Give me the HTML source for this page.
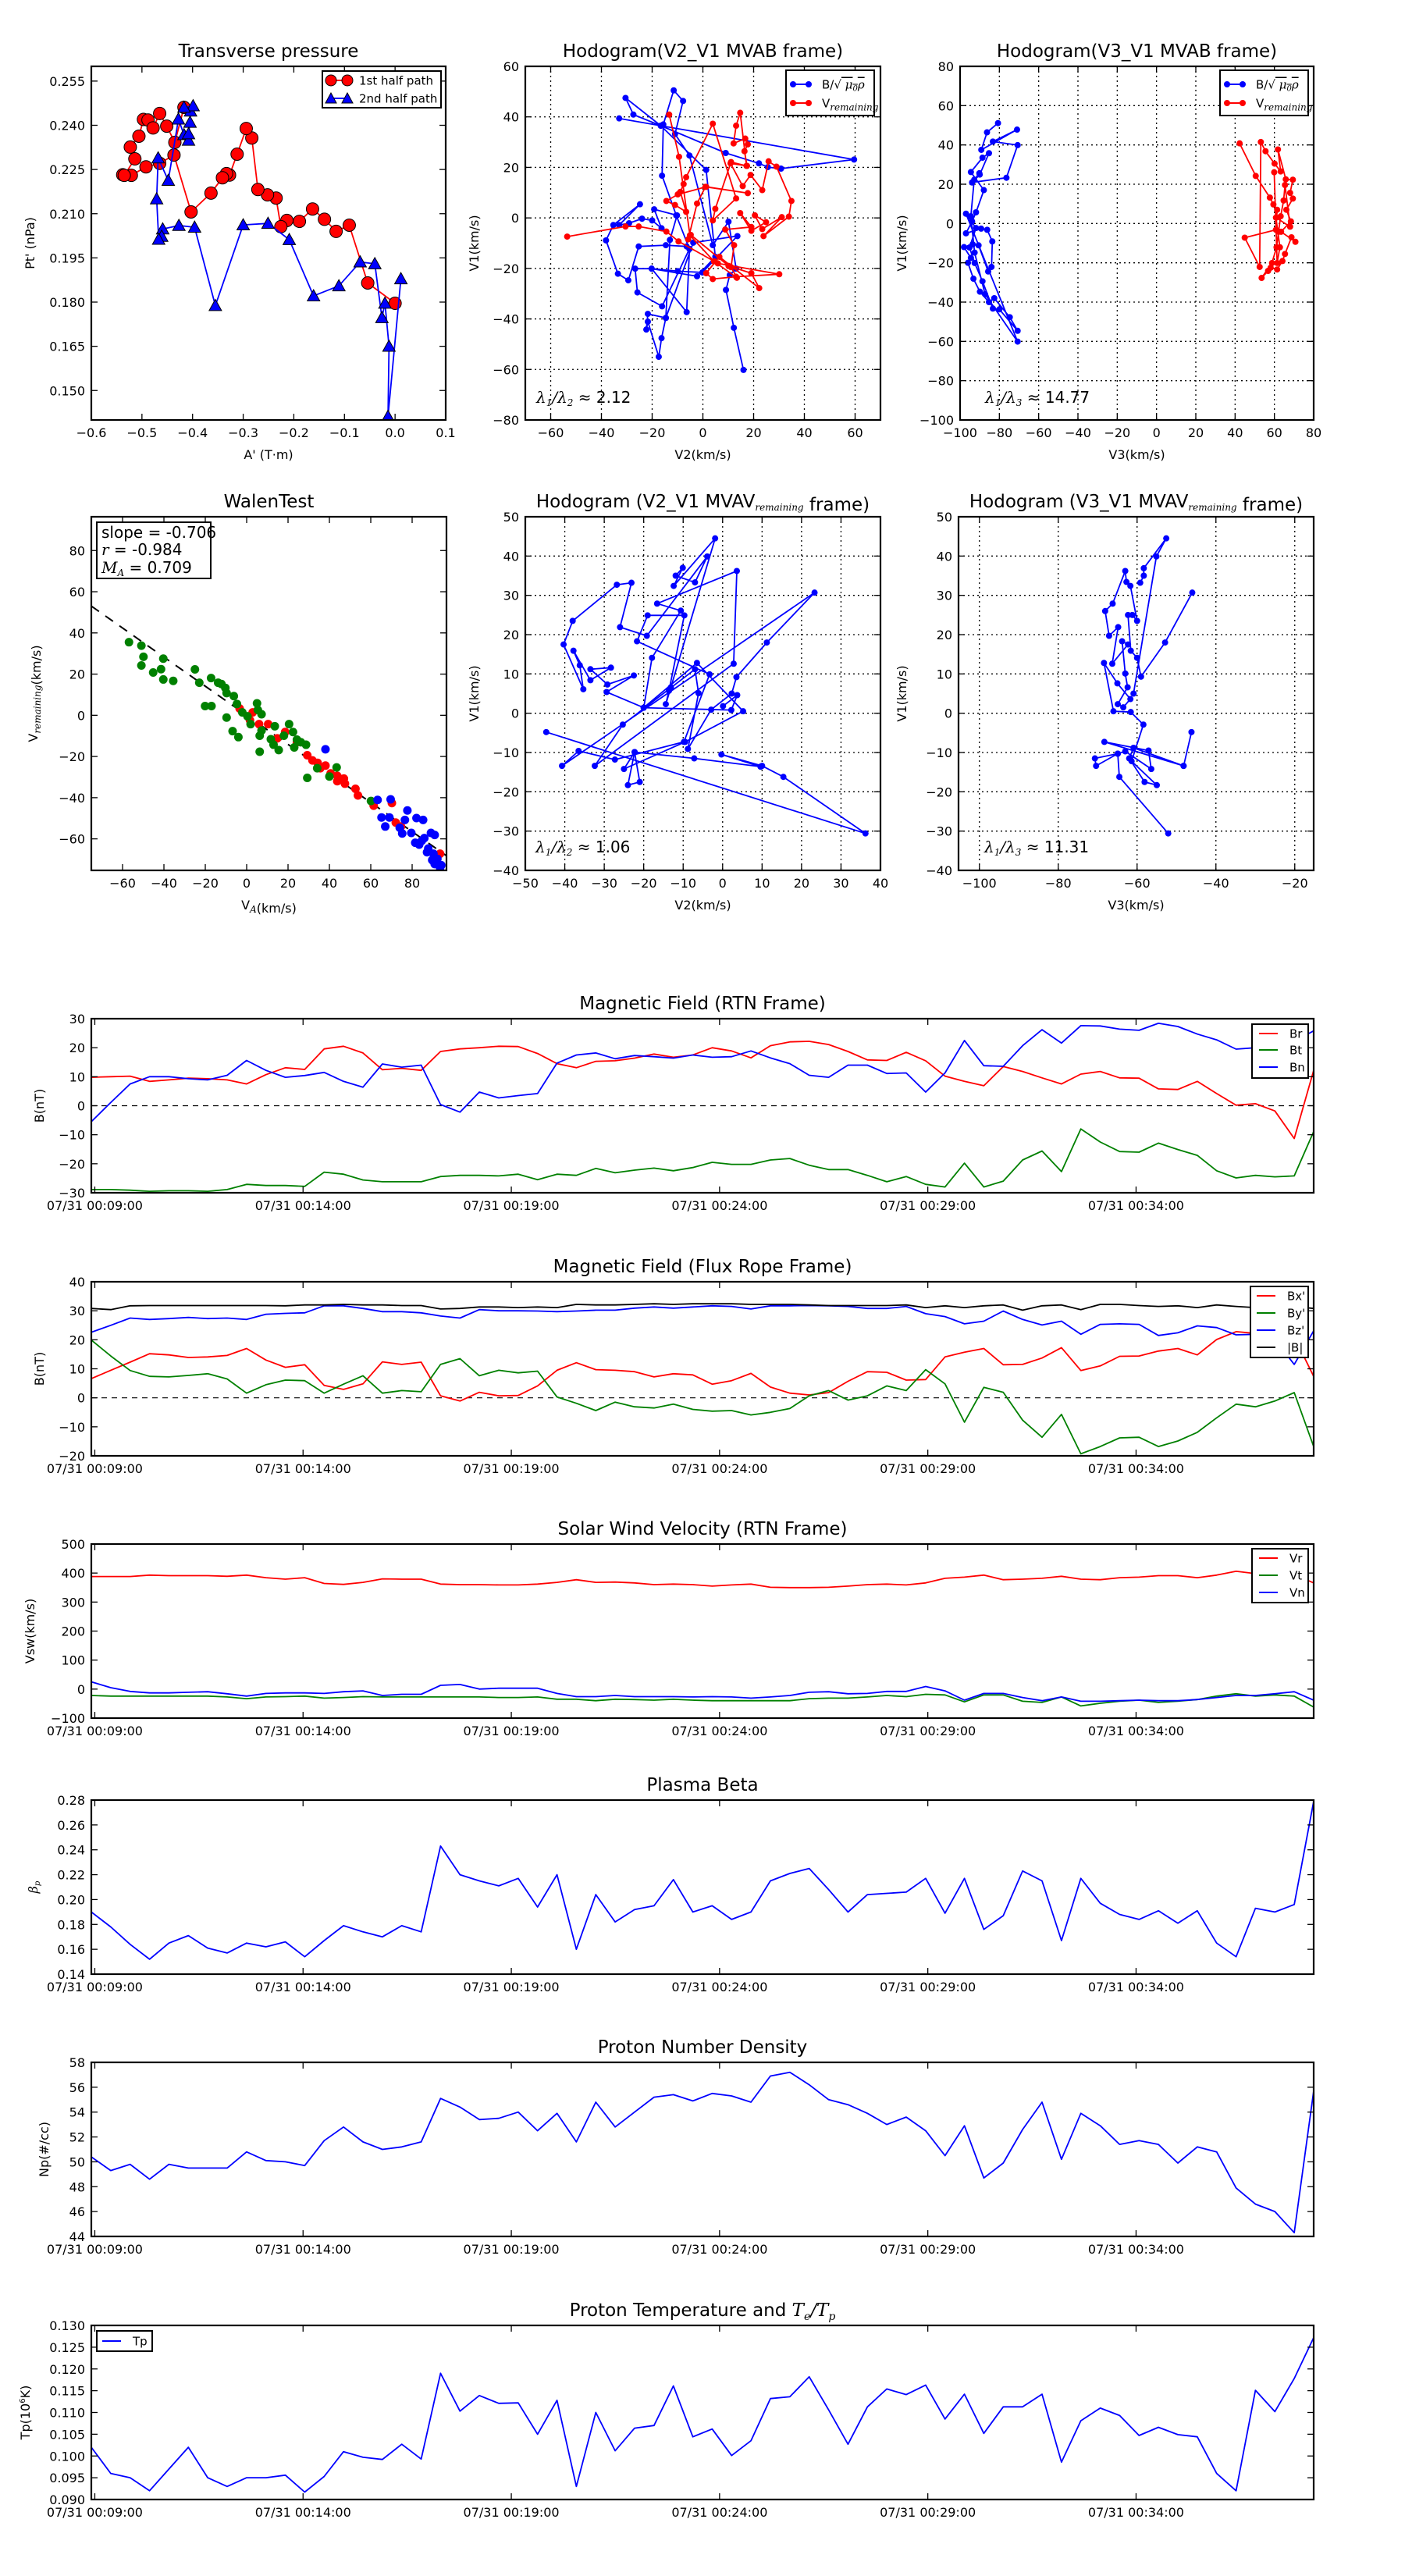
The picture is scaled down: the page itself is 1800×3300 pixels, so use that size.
<!DOCTYPE html>
<html><head><meta charset="utf-8"><title>Flux rope analysis</title>
<style>
html,body{margin:0;padding:0;background:#fff;}
svg{display:block;font-family:"DejaVu Sans","Liberation Sans",sans-serif;}
</style></head>
<body>
<svg id="fig" xmlns="http://www.w3.org/2000/svg" width="1800" height="3300" viewBox="0 0 1800 3300">
<rect width="1800" height="3300" fill="#fff"/>
<defs id="defs"></defs>
</svg>
<script>
// ---------- DATA ----------
const tp1A=[0.000,-0.054,-0.0905,-0.1165,-0.1395,-0.163,-0.189,-0.2137,-0.2256,-0.235,-0.252,-0.271,-0.283,-0.294,-0.312,-0.327,-0.333,-0.341,-0.3636,-0.403,-0.4367,-0.465,-0.492,-0.521,-0.538,-0.535,-0.514,-0.523,-0.506,-0.497,-0.488,-0.478,-0.465,-0.451,-0.435,-0.417];
const tp1P=[0.1796,0.1865,0.2061,0.2040,0.2081,0.2116,0.2074,0.2077,0.2056,0.2153,0.2164,0.2182,0.2357,0.2389,0.2302,0.2231,0.2236,0.2222,0.2170,0.2106,0.2299,0.2271,0.2259,0.2230,0.2232,0.2230,0.2286,0.2326,0.2363,0.2420,0.2418,0.2391,0.2440,0.2397,0.2342,0.2461];
const tp2A=[0.0115,-0.014,-0.012,-0.020,-0.026,-0.040,-0.069,-0.111,-0.161,-0.209,-0.251,-0.300,-0.355,-0.396,-0.427,-0.459,-0.461,-0.467,-0.471,-0.468,-0.448,-0.428,-0.417,-0.408,-0.408,-0.405,-0.404,-0.399,-0.417];
const tp2P=[0.1879,0.1412,0.1650,0.1796,0.1747,0.1930,0.1936,0.1855,0.1821,0.2012,0.2067,0.2062,0.1788,0.2054,0.2060,0.2048,0.2023,0.2013,0.2150,0.2289,0.2213,0.2421,0.2368,0.2349,0.2371,0.2410,0.2448,0.2466,0.2461];
const h1bV2=[16.0,12.2,9.1,10.6,13.1,10.1,3.9,-5.3,-11.0,-7.8,-11.5,-15.6,-16.1,-10.5,-5.3,-6.4,-14.6,-25.3,-29.4,-33.5,-38.2,-35.3,-24.8,-33.0,-29.1,-24.0,-20.0,-16.3,-19.2,-10.2,-13.0,-14.6,-16.3,-17.4,-21.7,-22.3,-21.7,-14.6,-3.8,13.6,-0.2,-9.9,-20.2,-26.7,-25.8,-16.1,-5.3,-6.4,-20.2,-2.3,4.9,1.3,-16.6,-30.5,-27.4,-16.6,9.0,22.1,25.6,30.8,59.6,-33.0];
const h1bV1=[-60.2,-43.5,-28.5,-22.6,-20.1,-1.5,-10.8,24.7,33.2,46.3,50.5,37.0,16.7,1.0,-12.3,-11.3,-10.8,-11.3,-24.7,-22.1,-8.9,-2.8,5.4,-2.8,-2.1,-0.3,-1.0,-4.1,3.4,1.0,-8.7,-39.6,-47.6,-55.0,-41.1,-44.2,-38.0,-39.6,-9.8,-7.2,-21.6,-21.1,-20.1,-20.1,-29.5,-35.0,-12.3,-37.3,-20.1,-23.1,-15.4,19.0,36.5,47.5,40.9,36.5,25.7,21.6,20.1,19.5,23.1,39.4];
const h1rV2=[-53.5,-30.5,-25.3,-14.4,-9.6,5.9,30.1,13.1,3.9,1.3,6.5,22.2,19.1,10.1,-4.8,-5.8,-2.3,1.0,17.7,1.3,-9.9,-14.4,-11.0,-6.6,-8.9,-7.6,-6.6,3.9,13.1,3.9,4.9,11.1,17.2,14.7,13.1,12.1,16.7,17.7,16.4,17.4,10.9,15.7,18.8,23.4,25.9,29.0,34.9,33.9,23.9,31.1,23.4,20.5,24.9,19.1,14.7,19.1,8.8,12.3,11.1,13.4,4.4,-5.1,-9.4,-13.3];
const h1rV1=[-7.4,-3.4,-3.4,-5.4,-9.3,-18.0,-22.3,-23.3,-24.2,-21.9,-15.4,-27.8,-21.9,-19.0,-6.7,-8.5,5.7,12.3,9.8,12.3,9.3,6.7,5.1,2.4,10.3,13.4,16.1,37.3,7.7,-1.0,3.6,22.1,20.6,41.6,36.5,29.5,31.4,29.1,26.4,20.6,21.6,12.6,17.0,11.0,22.4,20.3,6.7,0.5,-7.2,0.3,-4.4,1.0,-1.7,-5.1,1.9,-3.6,-4.6,-10.8,-19.5,-23.7,-17.2,-6.9,24.2,40.9];
const h2bV3=[-80.7,-86.3,-89.2,-71.0,-83.3,-70.7,-76.4,-93.9,-90.0,-85.3,-88.6,-94.5,-87.9,-91.9,-93.9,-97.0,-89.3,-86.2,-83.6,-84.0,-85.7,-90.6,-93.6,-98.0,-94.5,-96.0,-93.2,-89.9,-85.3,-82.6,-74.7,-70.7,-80.0,-83.3,-88.6,-92.6,-95.2,-91.9,-97.0,-70.7,-87.3,-92.6,-94.5,-92.8,-90.2];
const h2bV1=[51.1,46.4,37.5,47.8,41.7,39.9,23.3,20.9,24.9,35.8,33.5,26.2,17.0,5.7,1.1,-5.0,-2.6,-3.2,-9.1,-22.1,-24.4,-11.1,-10.6,-12.0,-17.5,-20.0,-28.1,-34.7,-40.0,-38.0,-47.7,-54.6,-43.7,-43.3,-29.4,-20.1,-12.2,-2.3,5.0,-60.1,-36.0,-14.8,3.7,22.3,25.6];
const h2rV3=[42.3,50.5,57.7,59.5,61.4,60.8,44.9,52.5,53.1,55.5,60.1,63.2,61.8,65.8,69.4,68.0,69.4,66.1,68.4,63.4,70.7,68.7,65.4,64.1,61.4,58.1,56.8,53.5,58.8,61.1,62.1,63.2,64.7,65.4,68.0,60.8,62.8,61.4,59.9];
const h2rV1=[40.8,24.2,13.2,9.7,7.0,-3.2,-7.2,-22.1,41.5,36.8,30.5,26.5,37.7,22.5,22.3,15.6,12.7,7.0,1.1,-4.2,-9.3,-7.0,-15.5,-19.1,-23.4,-22.5,-24.1,-27.7,-20.1,-12.1,-4.2,3.7,11.7,19.6,-1.6,3.0,-12.1,-20.1,26.1];
const wGx=[-56.9,-50.9,-49.9,-50.9,-45.2,-41.4,-40.3,-40.3,-35.5,-25.0,-22.9,-17.2,-13.8,-12.2,-10.3,-9.7,-6.2,-20.1,-17.0,-4.7,-2.1,-9.7,0.4,5.0,5.4,7.2,1.9,7.2,6.3,-6.8,-4.0,6.3,11.7,13.0,13.6,15.5,18.0,20.5,22.4,24.3,26.2,28.7,23.0,34.1,29.3,40.0,43.5,60.1];
const wGy=[35.5,33.8,28.4,24.2,20.8,22.4,27.5,17.4,16.7,22.3,15.8,18.1,15.8,15.2,13.3,10.8,9.3,4.5,4.5,5.5,1.4,-1.1,-0.5,5.8,2.6,0.5,-4.3,-7.4,-9.9,-7.7,-10.6,-17.7,-11.6,-14.3,-5.3,-16.9,-9.9,-4.3,-8.1,-11.8,-13.1,-14.3,-15.6,-25.7,-30.4,-29.7,-25.3,-41.6];
const wRx=[-3.4,2.9,1.6,6.0,10.4,14.8,18.6,24.3,29.3,31.8,34.3,35.6,38.1,40.6,43.8,47.0,43.8,47.5,52.6,53.8,61.4,70.2,72.1,74.6,93.5];
const wRy=[3.3,1.4,-2.4,-4.3,-4.3,-11.2,-8.1,-13.1,-19.4,-21.9,-23.1,-25.7,-24.4,-28.2,-29.4,-30.7,-32.0,-33.2,-35.7,-38.9,-43.9,-42.6,-52.1,-54.0,-67.2];
const wBx=[38.1,63.3,69.6,77.7,65.2,69.0,67.0,76.5,74.0,82.1,85.3,75.2,81.5,83.4,85.9,89.1,90.9,87.8,90.3,92.2,90.9,94.1,89.7,87.2,93.5,84.7,79.6];
const wBy=[-16.5,-41.1,-40.8,-46.2,-49.6,-49.6,-54.0,-50.8,-54.6,-49.9,-50.8,-57.4,-61.9,-62.8,-59.6,-57.1,-58.1,-64.7,-67.2,-69.7,-72.2,-72.8,-70.3,-66.5,-74.1,-60.9,-57.1];
const walenSlope=-0.706;
const h3V2=[-44.7,36.2,15.4,10.0,-0.3,9.6,-7.2,-22.3,-24.0,-21.0,-22.3,-25.0,-9.5,5.2,-6.5,-20.0,-17.9,-10.6,-16.6,3.6,2.8,-32.4,-25.3,-7.0,-6.1,-8.8,-2.9,2.3,3.5,11.2,23.3,-40.7,-36.5,-27.3,-9.8,-3.3,-21.7,-19.0,-9.7,-13.6,-14.4,-13.1,-1.9,-12.4,-10.1,-11.9,-7.0,-3.9,-19.2,-26.0,-23.1,-26.8,-38.0,-40.3,-35.3,-36.2,-37.8,-33.5,-28.3,-33.5,-29.2,-22.5,-29.4,-20.0,2.2,3.7,0.1];
const h3V1=[-4.8,-30.6,-16.2,-13.4,-10.5,-13.6,-11.5,-9.9,-18.3,-17.5,-9.9,-14.2,-7.3,0.5,12.8,1.4,14.1,26.1,27.9,36.2,12.6,-13.4,-2.9,11.2,5.1,-9.1,0.9,5.0,9.2,18.0,30.7,-13.4,-9.6,-11.8,-7.3,9.9,18.3,24.9,24.9,5.7,2.3,6.6,44.5,32.4,37.0,35.0,33.3,39.9,19.7,21.9,33.2,32.7,23.5,17.5,6.1,12.2,15.9,8.4,11.6,11.2,7.3,9.6,5.4,1.4,0.8,4.6,1.8];
const h4V3=[-52.1,-64.5,-64.9,-70.7,-70.4,-64.9,-63.0,-56.4,-57.1,-68.3,-48.2,-46.2,-48.2,-60.9,-62.0,-58.1,-55.0,-61.4,-58.4,-61.6,-66.0,-68.4,-65.0,-61.7,-63.5,-64.9,-62.4,-63.0,-63.8,-62.3,-66.3,-64.8,-67.1,-68.1,-66.2,-63.0,-62.7,-61.7,-60.0,-61.2,-62.3,-61.6,-60.0,-59.0,-52.9,-46.0];
const h4V1=[-30.6,-16.2,-10.3,-11.5,-13.4,-10.3,-9.7,-14.2,-9.5,-7.3,-13.4,-4.8,-13.4,-8.8,-11.5,-17.5,-18.3,-12.2,-2.9,0.3,0.5,12.8,7.6,3.6,1.5,2.3,6.6,10.1,18.3,17.5,12.6,21.9,19.7,26.0,27.9,36.2,33.4,32.4,23.5,25.0,25.0,15.9,14.1,9.3,18.0,30.7];
const h4bV3=[-59.2,-58.3,-58.3,-52.6,-55.1,-60.9];
const h4bV1=[33.2,35.0,36.9,44.5,39.9,5.0];
const tStart=535, tStep=27.95;
const timeTicks=[540,840,1140,1440,1740,2040];
const timeTickLabels=["07/31 00:09:00","07/31 00:14:00","07/31 00:19:00","07/31 00:24:00","07/31 00:29:00","07/31 00:34:00"];
const Br=[9.8,10.0,10.2,8.4,8.9,9.5,9.3,8.9,7.5,10.7,13.1,12.5,19.6,20.5,18.2,12.4,12.9,12.2,18.7,19.6,20.0,20.5,20.4,18.0,14.5,13.1,15.3,15.5,16.4,17.8,16.7,17.5,20.0,18.9,16.5,20.7,22.0,22.2,21.1,18.7,15.8,15.6,18.4,15.5,10.2,8.4,6.9,13.5,11.8,9.6,7.5,10.9,11.8,9.6,9.5,5.8,5.6,8.4,4.2,0.2,0.7,-1.8,-11.3,12.2];
const Bt=[-28.9,-28.9,-29.1,-29.5,-29.3,-29.3,-29.5,-28.9,-27.1,-27.5,-27.5,-27.8,-22.9,-23.6,-25.6,-26.2,-26.2,-26.2,-24.4,-24.0,-24.0,-24.2,-23.6,-25.5,-23.6,-24.0,-21.6,-23.1,-22.2,-21.5,-22.4,-21.3,-19.5,-20.2,-20.2,-18.7,-18.2,-20.5,-22.0,-22.0,-24.0,-26.2,-24.4,-27.1,-28.0,-19.8,-28.0,-26.0,-18.7,-15.6,-22.7,-8.0,-12.5,-15.8,-16.0,-12.9,-15.1,-17.1,-22.4,-24.9,-24.0,-24.5,-24.2,-8.9];
const Bn=[-5.5,1.1,7.5,10.0,10.0,9.3,8.9,10.5,15.6,12.2,9.8,10.4,11.5,8.4,6.4,14.4,13.3,14.0,0.4,-2.2,4.7,2.7,3.5,4.2,14.7,17.5,18.2,16.2,17.3,16.9,16.4,17.5,16.7,16.9,18.9,16.5,14.5,10.5,9.8,14.0,14.0,11.1,11.3,4.7,11.3,22.5,13.8,13.6,20.7,26.2,21.6,27.6,27.5,26.4,26.0,28.4,27.3,24.7,22.7,19.5,20.0,20.4,22.2,25.8];
const Bx=[6.6,9.5,12.3,15.2,14.8,13.9,14.1,14.6,17.0,13.0,10.5,11.4,4.3,2.9,4.8,12.4,11.5,12.3,0.7,-1.1,1.9,0.7,0.8,4.1,9.5,12.1,9.7,9.5,9.0,7.2,8.3,7.9,4.7,5.9,8.4,3.7,1.6,1.0,1.8,5.7,9.0,8.8,6.1,6.3,14.1,15.7,17.0,11.4,11.5,13.7,17.3,9.4,11.0,14.3,14.4,16.1,17.0,14.8,20.1,22.8,22.2,21.9,21.0,7.4];
const By=[19.9,14.4,9.4,7.4,7.2,7.7,8.3,6.5,1.6,4.5,6.1,5.9,1.6,4.7,7.6,1.6,2.5,2.1,11.5,13.5,7.6,9.5,8.6,9.2,0.3,-1.9,-4.4,-1.5,-3.1,-3.5,-2.2,-4.0,-4.6,-4.4,-5.9,-5.0,-3.7,0.7,2.5,-0.8,0.7,4.1,2.5,9.7,4.8,-8.4,3.6,1.9,-7.7,-13.6,-5.7,-19.3,-16.8,-13.8,-13.6,-16.8,-14.9,-11.9,-6.9,-2.2,-3.1,-1.1,1.8,-16.8];
const Bz=[22.6,25.0,27.5,27.0,27.3,27.7,27.3,27.5,27.0,28.8,29.1,29.3,31.7,31.7,30.8,29.7,29.7,29.3,28.2,27.5,30.4,30.0,30.0,29.9,29.7,29.9,30.2,30.2,30.9,31.3,30.9,31.3,31.7,31.5,30.6,31.7,31.7,31.8,31.7,31.5,30.8,30.8,31.5,29.0,28.0,25.5,26.4,29.9,27.0,25.1,26.4,21.9,25.3,25.5,25.3,21.5,22.4,24.8,24.2,21.7,21.9,20.1,11.5,23.1];
const Bmag=[30.8,30.4,31.7,31.8,31.8,31.8,31.8,31.8,31.8,31.8,31.7,32.0,32.0,32.2,32.0,32.0,31.8,31.8,30.6,30.8,31.3,31.3,31.1,31.3,31.1,32.2,32.0,32.0,32.2,32.4,32.2,32.4,32.4,32.4,32.2,32.2,32.2,32.0,31.8,31.8,31.8,31.8,32.0,31.1,31.7,31.1,31.7,32.0,30.2,31.7,32.0,30.4,32.2,32.2,31.8,31.5,31.7,31.1,32.0,31.5,31.1,31.3,31.5,30.8];
const Vr=[388,388,388,393,391,391,391,389,393,384,379,384,364,361,368,380,379,379,362,360,360,359,359,362,368,377,368,369,366,360,362,360,355,359,362,351,350,350,351,355,360,362,359,366,382,386,393,377,379,382,389,379,377,384,386,391,391,384,393,406,398,391,395,366];
const Vt=[-22,-24,-24,-24,-24,-24,-24,-27,-33,-27,-26,-24,-31,-29,-26,-27,-27,-27,-27,-27,-27,-29,-29,-27,-35,-35,-40,-35,-36,-38,-35,-38,-40,-40,-40,-40,-40,-33,-31,-31,-27,-22,-26,-18,-20,-44,-20,-20,-42,-46,-27,-58,-49,-42,-38,-46,-42,-36,-24,-16,-24,-20,-24,-62];
const Vn=[25,5,-8,-13,-13,-11,-9,-16,-24,-15,-13,-13,-15,-9,-6,-22,-18,-18,13,16,0,3,3,3,-15,-26,-26,-22,-26,-26,-26,-27,-26,-27,-31,-27,-22,-11,-9,-16,-15,-8,-8,9,-6,-38,-15,-15,-29,-40,-27,-42,-42,-40,-38,-40,-40,-36,-29,-22,-22,-16,-9,-38];
const beta=[0.190,0.178,0.164,0.152,0.165,0.171,0.161,0.157,0.165,0.162,0.166,0.154,0.167,0.179,0.174,0.170,0.179,0.174,0.243,0.220,0.215,0.211,0.217,0.194,0.220,0.160,0.204,0.182,0.192,0.195,0.216,0.190,0.195,0.184,0.190,0.215,0.221,0.225,0.208,0.190,0.204,0.205,0.206,0.217,0.189,0.217,0.176,0.187,0.223,0.215,0.167,0.217,0.197,0.188,0.184,0.191,0.181,0.191,0.165,0.154,0.193,0.190,0.196,0.279];
const Np=[50.4,49.3,49.8,48.6,49.8,49.5,49.5,49.5,50.8,50.1,50.0,49.7,51.7,52.8,51.6,51.0,51.2,51.6,55.1,54.4,53.4,53.5,54.0,52.5,53.9,51.6,54.8,52.8,54.0,55.2,55.4,54.9,55.5,55.3,54.8,56.9,57.2,56.2,55.0,54.6,53.9,53.0,53.6,52.5,50.5,52.9,48.7,49.9,52.6,54.8,50.2,53.9,52.9,51.4,51.7,51.4,49.9,51.2,50.8,47.9,46.6,46.0,44.3,55.7];
const Tp=[0.102,0.096,0.095,0.092,0.097,0.102,0.095,0.093,0.095,0.095,0.0956,0.0917,0.0953,0.101,0.0997,0.0992,0.1027,0.0993,0.119,0.1103,0.1139,0.1121,0.1122,0.105,0.1128,0.093,0.110,0.1012,0.1064,0.107,0.1161,0.1044,0.1062,0.1001,0.1035,0.1132,0.1136,0.1182,0.1106,0.1027,0.1113,0.1154,0.1141,0.1163,0.1085,0.1142,0.1052,0.1113,0.1113,0.1142,0.0986,0.1081,0.111,0.1093,0.1047,0.1066,0.1049,0.1044,0.096,0.092,0.1151,0.1102,0.1178,0.1272];

// ---------- DRAWING ----------
const NS='http://www.w3.org/2000/svg';
const svg=document.getElementById('fig');
const defs=document.getElementById('defs');
const TICKF=16, TITLEF=23, LABF=16;
function mk(tag,attrs,parent){const e=document.createElementNS(NS,tag);for(const k in attrs)e.setAttribute(k,attrs[k]);(parent||svg).appendChild(e);return e;}
let clipN=0;
function range(a,b,s){const r=[];for(let v=a;v<=b+s*1e-6;v+=s)r.push(Math.round(v/s)*s);return r;}

function panel(o){
  const g=mk('g',{});
  
  
  const sx=v=>o.x+(v-o.xmin)/(o.xmax-o.xmin)*o.w;
  const sy=v=>o.y+o.h-(v-o.ymin)/(o.ymax-o.ymin)*o.h;
  if(o.grid){
    const gg=mk('g',{stroke:'#000','stroke-width':1.3,'stroke-dasharray':'2,4',fill:'none'},g);
    
    
    o.xticks.forEach(v=>{const l=mk('line',{x1:sx(v),x2:sx(v),y1:o.y,y2:o.y+o.h},gg);});
    o.yticks.forEach(v=>{const l=mk('line',{x1:o.x,x2:o.x+o.w,y1:sy(v),y2:sy(v)},gg);});
  }
  const id='c'+(clipN++);
  const cp=mk('clipPath',{id:id},defs);
  mk('rect',{x:o.x,y:o.y,width:o.w,height:o.h},cp);
  const plot=mk('g',{'clip-path':'url(#'+id+')'},g);
  
  
  const tg=mk('g',{stroke:'#000','stroke-width':1.3},g);
  
  
  const L=8;
  const xt=o.xtickPos||o.xticks;
  xt.forEach((v,i)=>{
    const X=sx(v);
    mk('line',{x1:X,x2:X,y1:o.y+o.h,y2:o.y+o.h-L},tg);
    mk('line',{x1:X,x2:X,y1:o.y,y2:o.y+L},tg);
    const t=mk('text',{x:X,y:o.y+o.h+22,'text-anchor':'middle','font-size':TICKF,fill:'#000',stroke:'none'},g);
    
    
    t.textContent=o.xlabels?o.xlabels[i]:o.xfmt(v);
  });
  o.yticks.forEach(v=>{
    const Y=sy(v);
    mk('line',{x1:o.x,x2:o.x+L,y1:Y,y2:Y},tg);
    mk('line',{x1:o.x+o.w,x2:o.x+o.w-L,y1:Y,y2:Y},tg);
    const t=mk('text',{x:o.x-8,y:Y+6,'text-anchor':'end','font-size':TICKF,fill:'#000'},g);
    
    
    t.textContent=o.yfmt(v);
  });
  const fr=mk('rect',{x:o.x,y:o.y,width:o.w,height:o.h,fill:'none',stroke:'#000','stroke-width':2.2},g);
  
  
  const ti=mk('text',{x:o.x+o.w/2,y:o.y-12,'text-anchor':'middle','font-size':TITLEF,fill:'#000'},g);
  
  
  ti.innerHTML=o.title;
  if(o.xlabel){const t=mk('text',{x:o.x+o.w/2,y:o.y+o.h+50,'text-anchor':'middle','font-size':LABF,fill:'#000'},g);t.innerHTML=o.xlabel;}
  if(o.ylabel){const yx=o.ylx,yy=o.y+o.h/2;const t=mk('text',{x:yx,y:yy,'text-anchor':'middle','font-size':LABF,fill:'#000',transform:'rotate(-90 '+yx+' '+yy+')'},g);t.innerHTML=o.ylabel;}
  return {sx,sy,plot,g};
}
function line(p,xs,ys,color,name,w,dash){
  const pts=xs.map((x,i)=>p.sx(x).toFixed(1)+','+p.sy(ys[i]).toFixed(1)).join(' ');
  const l=mk('polyline',{points:pts,fill:'none',stroke:color,'stroke-width':w||1.8,'stroke-linejoin':'round'},p.plot);
  if(dash)l.setAttribute('stroke-dasharray',dash);
  
  
  return l;
}
function dots(p,xs,ys,color,r,name,edge){
  const g=mk('g',{fill:color},p.plot);
  
  
  xs.forEach((x,i)=>{const c=mk('circle',{cx:p.sx(x),cy:p.sy(ys[i]),r:r},g);if(edge){c.setAttribute('stroke','#000');c.setAttribute('stroke-width',1);}});
}
function tris(p,xs,ys,color,s,name){
  const g=mk('g',{fill:color,stroke:'#000','stroke-width':1},p.plot);
  
  
  xs.forEach((x,i)=>{const X=p.sx(x),Y=p.sy(ys[i]);const t=mk('polygon',{points:`${X},${Y-s} ${X-s},${Y+s*0.8} ${X+s},${Y+s*0.8}`},g);});
}
function legendBox(x,y,w,h,name){
  const g=mk('g',{});
  
  
  const r=mk('rect',{x:x,y:y,width:w,height:h,fill:'#fff',stroke:'#000','stroke-width':2},g);
  
  
  return g;
}
function legendEntry(g,x,y,color,label,marker){
  const e=mk('g',{},g);
  
  
  mk('line',{x1:x,x2:x+24,y1:y,y2:y,stroke:color,'stroke-width':2},e);
  if(marker==='o'){mk('circle',{cx:x+2,cy:y,r:4,fill:color},e);mk('circle',{cx:x+22,cy:y,r:4,fill:color},e);}
  if(marker==='O'){mk('circle',{cx:x+3,cy:y,r:7,fill:color,stroke:'#000'},e);mk('circle',{cx:x+24,cy:y,r:7,fill:color,stroke:'#000'},e);}
  if(marker==='^'){[x+3,x+24].forEach(X=>mk('polygon',{points:`${X},${y-7} ${X-7},${y+6} ${X+7},${y+6}`,fill:color,stroke:'#000'},e));}
  const t=mk('text',{x:x+39,y:y+5.5,'font-size':15,fill:'#000'},e);
  t.innerHTML=label;
  return e;
}
const f0=v=>String(v).replace('-','\u2212');
const f1=v=>(v.toFixed(1)).replace('-','\u2212');
const f2=v=>v.toFixed(2);
const f3=v=>v.toFixed(3);
const sub=s=>`<tspan font-family="DejaVu Serif" font-style="italic" font-size="12" dy="4">${s}</tspan><tspan dy="-4"></tspan>`;
const BLEG='B/√<tspan font-family="DejaVu Serif" font-style="italic" text-decoration="overline"> μ<tspan font-size="10" dy="3">0</tspan><tspan dy="-3">ρ</tspan></tspan>';
const VLEG='V'+sub('remaining');

// Row 1
const p1=panel({name:'transverse-pressure-chart',x:117,y:85,w:454,h:453,xmin:-0.6,xmax:0.1,ymin:0.14,ymax:0.26,xticks:range(-0.6,0.1,0.1),yticks:range(0.15,0.255,0.015),xfmt:f1,yfmt:f3,title:'Transverse pressure',xlabel:"A' (T·m)",ylabel:"Pt' (nPa)",ylx:44});
line(p1,tp1A,tp1P,'#ff0000','first-half-line',1.8);
dots(p1,tp1A,tp1P,'#ff0000',8,'first-half-markers',true);
line(p1,tp2A,tp2P,'#0000ff','second-half-line',1.8);
tris(p1,tp2A,tp2P,'#0000ff',8,'second-half-markers');
{const g=legendBox(413,91,152,47,'pressure-legend');legendEntry(g,421,103,'#ff0000','1st half path','O');legendEntry(g,421,126,'#0000ff','2nd half path','^');}

const p2=panel({name:'hodogram-v2-v1-mvab',x:673,y:85,w:455,h:453,xmin:-70,xmax:70,ymin:-80,ymax:60,xticks:range(-60,60,20),yticks:range(-80,60,20),xfmt:f0,yfmt:f0,grid:true,title:'Hodogram(V2_V1 MVAB frame)',xlabel:'V2(km/s)',ylabel:'V1(km/s)',ylx:613});
line(p2,h1bV2,h1bV1,'#0000ff','b-hodogram-line',1.8);dots(p2,h1bV2,h1bV1,'#0000ff',4,'b-hodogram-markers');
line(p2,h1rV2,h1rV1,'#ff0000','v-hodogram-line',1.8);dots(p2,h1rV2,h1rV1,'#ff0000',4,'v-hodogram-markers');
{const g=legendBox(1007,90,113,58,'hodogram-legend');legendEntry(g,1014,108,'#0000ff',BLEG,'o');legendEntry(g,1014,132,'#ff0000',VLEG,'o');}
{const t=mk('text',{x:687,y:516,'font-size':20,fill:'#000'});t.innerHTML='<tspan font-family="DejaVu Serif" font-style="italic">λ<tspan font-size="12" dy="4">1</tspan><tspan dy="-4">/λ</tspan><tspan font-size="12" dy="4">2</tspan></tspan><tspan dy="-4"> ≈ 2.12</tspan>';}

const p3=panel({name:'hodogram-v3-v1-mvab',x:1230,y:85,w:453,h:453,xmin:-100,xmax:80,ymin:-100,ymax:80,xticks:range(-100,80,20),yticks:range(-100,80,20),xfmt:f0,yfmt:f0,grid:true,title:'Hodogram(V3_V1 MVAB frame)',xlabel:'V3(km/s)',ylabel:'V1(km/s)',ylx:1161});
line(p3,h2bV3,h2bV1,'#0000ff','b-hodogram-line',1.8);dots(p3,h2bV3,h2bV1,'#0000ff',4,'b-hodogram-markers');
line(p3,h2rV3,h2rV1,'#ff0000','v-hodogram-line',1.8);dots(p3,h2rV3,h2rV1,'#ff0000',4,'v-hodogram-markers');
{const g=legendBox(1563,90,113,58,'hodogram-legend');legendEntry(g,1570,108,'#0000ff',BLEG,'o');legendEntry(g,1570,132,'#ff0000',VLEG,'o');}
{const t=mk('text',{x:1262,y:516,'font-size':20,fill:'#000'});t.innerHTML='<tspan font-family="DejaVu Serif" font-style="italic">λ<tspan font-size="12" dy="4">1</tspan><tspan dy="-4">/λ</tspan><tspan font-size="12" dy="4">3</tspan></tspan><tspan dy="-4"> ≈ 14.77</tspan>';}

// Row 2
const p4=panel({name:'walen-test-chart',x:117,y:662,w:455,h:453,xmin:-75.1,xmax:96.6,ymin:-75.3,ymax:96.4,xticks:range(-60,80,20),yticks:range(-60,80,20),xfmt:f0,yfmt:f0,title:'WalenTest',xlabel:'V'+sub('A')+'(km/s)',ylabel:'V'+sub('remaining')+'(km/s)',ylx:48});
line(p4,[-75.1,96.6],[-75.1*walenSlope,96.6*walenSlope],'#000','fit-line',2,'12,10');
dots(p4,wRx,wRy,'#ff0000',5.5,'red-points');
dots(p4,wGx,wGy,'#008000',5.5,'green-points');
dots(p4,wBx,wBy,'#0000ff',5.5,'blue-points');
{const g=legendBox(124,669,146,72,'walen-stats-box');
 const t=mk('text',{x:130,y:689,'font-size':20,fill:'#000'},g);t.textContent='slope = -0.706';
 const t2=mk('text',{x:130,y:711,'font-size':20,fill:'#000'},g);t2.innerHTML='<tspan font-family="DejaVu Serif" font-style="italic">r</tspan> = -0.984';
 const t3=mk('text',{x:130,y:734,'font-size':20,fill:'#000'},g);t3.innerHTML='<tspan font-family="DejaVu Serif" font-style="italic">M<tspan font-size="12" dy="4">A</tspan></tspan><tspan dy="-4"> = 0.709</tspan>';}

const p5=panel({name:'hodogram-v2-v1-mvav',x:673,y:662,w:455,h:453,xmin:-50,xmax:40,ymin:-40,ymax:50,xticks:range(-50,40,10),yticks:range(-40,50,10),xfmt:f0,yfmt:f0,grid:true,title:'Hodogram (V2_V1 MVAV'+sub('remaining')+' frame)',xlabel:'V2(km/s)',ylabel:'V1(km/s)',ylx:613});
line(p5,h3V2,h3V1,'#0000ff','hodogram-line',1.8);dots(p5,h3V2,h3V1,'#0000ff',4,'hodogram-markers');
{const t=mk('text',{x:686,y:1092,'font-size':20,fill:'#000'});t.innerHTML='<tspan font-family="DejaVu Serif" font-style="italic">λ<tspan font-size="12" dy="4">1</tspan><tspan dy="-4">/λ</tspan><tspan font-size="12" dy="4">2</tspan></tspan><tspan dy="-4"> ≈ 1.06</tspan>';}

const p6=panel({name:'hodogram-v3-v1-mvav',x:1228,y:662,w:455,h:453,xmin:-105.3,xmax:-15.2,ymin:-40,ymax:50,xticks:range(-100,-20,20),yticks:range(-40,50,10),xfmt:f0,yfmt:f0,grid:true,title:'Hodogram (V3_V1 MVAV'+sub('remaining')+' frame)',xlabel:'V3(km/s)',ylabel:'V1(km/s)',ylx:1161});
line(p6,h4V3,h4V1,'#0000ff','hodogram-line',1.8);dots(p6,h4V3,h4V1,'#0000ff',4,'hodogram-markers');
line(p6,h4bV3,h4bV1,'#0000ff','hodogram-line-2',1.8);dots(p6,h4bV3,h4bV1,'#0000ff',4,'hodogram-markers-2');
{const t=mk('text',{x:1261,y:1092,'font-size':20,fill:'#000'});t.innerHTML='<tspan font-family="DejaVu Serif" font-style="italic">λ<tspan font-size="12" dy="4">1</tspan><tspan dy="-4">/λ</tspan><tspan font-size="12" dy="4">3</tspan></tspan><tspan dy="-4"> ≈ 11.31</tspan>';}

// Time series
const n=Br.length;
const tArr=[];for(let i=0;i<n;i++)tArr.push(tStart+i*tStep);
const tEnd=tStart+(n-1)*tStep;
function ts(o){
  return panel(Object.assign({x:117,w:1566,h:223,xmin:tStart,xmax:tEnd,xticks:timeTicks,xlabels:timeTickLabels},o));
}
const q1=ts({name:'magnetic-field-rtn-chart',y:1305,ymin:-30,ymax:30,yticks:range(-30,30,10),yfmt:f0,title:'Magnetic Field (RTN Frame)',ylabel:'B(nT)',ylx:56});
line(q1,[tStart,tEnd],[0,0],'#000','zero-line',1.2,'7,6');
line(q1,tArr,Br,'#ff0000','br-line');line(q1,tArr,Bt,'#008000','bt-line');line(q1,tArr,Bn,'#0000ff','bn-line');
{const g=legendBox(1604,1312,72,69,'rtn-legend');legendEntry(g,1613,1324,'#ff0000','Br');legendEntry(g,1613,1345,'#008000','Bt');legendEntry(g,1613,1367,'#0000ff','Bn');}

const q2=ts({name:'magnetic-field-flux-rope-chart',y:1642,ymin:-20,ymax:40,yticks:range(-20,40,10),yfmt:f0,title:'Magnetic Field (Flux Rope Frame)',ylabel:'B(nT)',ylx:56});
line(q2,[tStart,tEnd],[0,0],'#000','zero-line',1.2,'7,6');
line(q2,tArr,Bx,'#ff0000','bx-line');line(q2,tArr,By,'#008000','by-line');line(q2,tArr,Bz,'#0000ff','bz-line');line(q2,tArr,Bmag,'#000000','bmag-line');
{const g=legendBox(1602,1648,74,91,'flux-rope-legend');legendEntry(g,1610,1660,'#ff0000',"Bx'");legendEntry(g,1610,1682,'#008000',"By'");legendEntry(g,1610,1704,'#0000ff',"Bz'");legendEntry(g,1610,1726,'#000000','|B|');}

const q3=ts({name:'solar-wind-velocity-chart',y:1978,ymin:-100,ymax:500,yticks:range(-100,500,100),yfmt:f0,title:'Solar Wind Velocity (RTN Frame)',ylabel:'Vsw(km/s)',ylx:44});
line(q3,tArr,Vr,'#ff0000','vr-line');line(q3,tArr,Vt,'#008000','vt-line');line(q3,tArr,Vn,'#0000ff','vn-line');
{const g=legendBox(1604,1984,72,69,'velocity-legend');legendEntry(g,1613,1996,'#ff0000','Vr');legendEntry(g,1613,2018,'#008000','Vt');legendEntry(g,1613,2040,'#0000ff','Vn');}

const q4=ts({name:'plasma-beta-chart',y:2306,ymin:0.14,ymax:0.28,yticks:range(0.14,0.28,0.02),yfmt:f2,title:'Plasma Beta',ylabel:'<tspan font-family="DejaVu Serif" font-style="italic">β<tspan font-size="10" dy="3">p</tspan></tspan>',ylx:48});
line(q4,tArr,beta,'#0000ff','beta-line');

const q5=ts({name:'proton-density-chart',y:2642,ymin:44,ymax:58,yticks:range(44,58,2),yfmt:f0,title:'Proton Number Density',ylabel:'Np(#/cc)',ylx:62});
line(q5,tArr,Np,'#0000ff','density-line');

const q6=ts({name:'proton-temperature-chart',y:2979,ymin:0.09,ymax:0.13,yticks:range(0.09,0.13,0.005),yfmt:f3,title:'Proton Temperature and <tspan font-family="DejaVu Serif" font-style="italic">T<tspan font-size="14" dy="5">e</tspan><tspan dy="-5">/T</tspan><tspan font-size="14" dy="5">p</tspan></tspan>',ylabel:'Tp(10<tspan font-size="10" dy="-6">6</tspan><tspan dy="6">K)</tspan>',ylx:38});
line(q6,tArr,Tp,'#0000ff','tp-line');
{const g=legendBox(124,2986,71,26,'temperature-legend');legendEntry(g,131,2999,'#0000ff','Tp');}
</script>
</body></html>
